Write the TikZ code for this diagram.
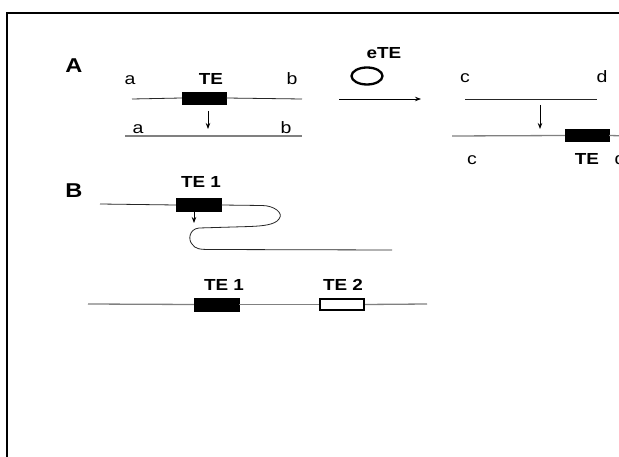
\documentclass[tikz,border=0pt]{standalone}
\usepackage{fontspec}
\setmainfont{Liberation Sans}[FakeStretch=1.18]
\usetikzlibrary{arrows.meta,shapes.geometric}
\begin{document}
\begin{tikzpicture}[x=1pt,y=-1pt,
  dna/.style={line width=0.8pt, black!85},
  dnag/.style={line width=1.3pt, black!50},
  tebox/.style={draw=black, fill=black, minimum width=44pt, minimum height=12pt, inner sep=0pt},
  teopen/.style={draw=black, fill=white, line width=2pt, minimum width=44pt, minimum height=11pt, inner sep=0pt},
  lbl/.style={font=\fontsize{16}{18}\selectfont\bfseries, inner sep=0pt, anchor=base},
  letr/.style={font=\fontsize{16.5}{19}\selectfont, inner sep=0pt, anchor=base},
  panel/.style={font=\fontsize{20}{24}\selectfont\bfseries, inner sep=0pt},
  arr/.style={-{Stealth[length=6pt,width=4.5pt]}, line width=0.8pt}]
\useasboundingbox (0,0) rectangle (619,457);
\fill[white] (0,0) rectangle (619,457);
% frame
\draw[line width=2pt] (7,470) -- (7,13) -- (630,13);

% ---------- Panel A ----------
\node[panel] (pA) at (74,66) {A};
% left donor
\coordinate (r1l) at (132,99);
\coordinate (r1r) at (302,99);
\node[tebox] (teA) at (204,98) {};
\draw[dna] (r1l) -- (teA.west);
\draw[dna] (teA.east) -- (r1r);
\node[lbl] (teAlbl) at (211,85) {TE};
\node[letr] (a1) at (130,84.5) {a};
\node[letr] (b1) at (292,84.5) {b};
\coordinate (arA1s) at (208,111);
\coordinate (arA1e) at (208,129);
\draw[arr] (arA1s) -- (arA1e);
\coordinate (r2l) at (125,136);
\coordinate (r2r) at (302,136);
\draw[dnag] (r2l) -- (r2r);
\node[letr] (a2) at (138,134) {a};
\node[letr] (b2) at (286,134) {b};
% eTE
\node[lbl] (eTElbl) at (384,58.5) {eTE};
\node[draw, ellipse, line width=2.3pt, minimum width=31pt, minimum height=17pt, inner sep=0pt] (eTE) at (367,76) {};
\coordinate (arBs) at (339,99);
\coordinate (arBe) at (421,99);
\draw[arr] (arBs) -- (arBe);
% right target
\node[letr] (c1) at (465,83) {c};
\node[letr] (d1) at (602,83) {d};
\coordinate (r3l) at (465,99);
\coordinate (r3r) at (597,99);
\draw[dna] (r3l) -- (r3r);
\coordinate (arA2s) at (540,105);
\coordinate (arA2e) at (540,129);
\draw[arr] (arA2s) -- (arA2e);
\coordinate (r4l) at (452,136);
\coordinate (r4r) at (630,136);
\node[tebox] (teA2) at (587,135.5) {};
\draw[dnag] (r4l) -- (teA2.west);
\draw[dnag] (teA2.east) -- (r4r);
\node[letr] (c2) at (472,165) {c};
\node[lbl] (teA2lbl) at (587,165) {TE};
\node[letr] (d2) at (620,165) {d};

% ---------- Panel B ----------
\node[panel] (pB) at (74,191) {B};
\node[lbl] (teB1lbl) at (201,187.5) {TE 1};
\coordinate (s1l) at (100,204);
\node[tebox, minimum width=45pt, minimum height=13pt] (teB1) at (198.5,205) {};
\draw[dna] (s1l) -- (teB1.west);
\coordinate (loopend) at (392,250);
\draw[dna] (teB1.east) -- (262,205.5)
  .. controls (274,205.5) and (284,213) .. (279,219)
  .. controls (275,225) and (262,226) .. (250,226.5)
  -- (199,228)
  .. controls (189,229) and (188,240) .. (192,244)
  .. controls (195,249) and (200,249.5) .. (210,249.5)
  -- (loopend);
\coordinate (arB1s) at (194,212);
\coordinate (arB1e) at (194,223);
\draw[arr] (arB1s) -- (arB1e);
% result
\coordinate (s2l) at (88,304);
\coordinate (s2r) at (427,304);
\node[tebox, minimum width=45pt, minimum height=13pt] (teB2) at (216.5,304.5) {};
\node[teopen, minimum width=44pt, minimum height=11pt] (teB3) at (342,304.5) {};
\draw[dnag] (s2l) -- (teB2.west);
\draw[dnag] (teB2.east) -- (teB3.west);
\draw[dnag] (teB3.east) -- (s2r);
\node[lbl] (teB2lbl) at (224,290.5) {TE 1};
\node[lbl] (teB3lbl) at (343,290.5) {TE 2};
\end{tikzpicture}
\end{document}
